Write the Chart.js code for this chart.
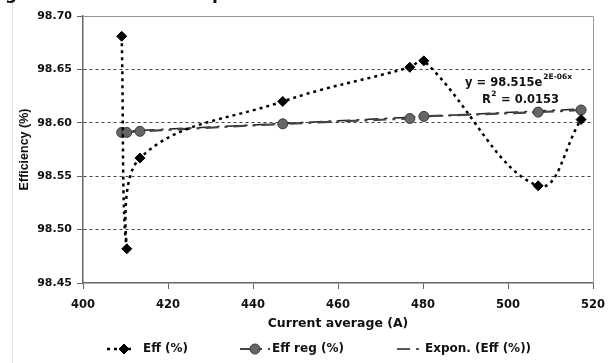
<!DOCTYPE html>
<html>
<head>
<meta charset="utf-8">
<script src="https://cdn.jsdelivr.net/npm/chart.js@4.4.1/dist/chart.umd.min.js"></script>
<style>
  html, body { margin: 0; padding: 0; background: #fff; }
</style>
</head>
<body>
<canvas id="chart" width="616" height="363"></canvas>
<script>
// values
const effX = [409.1, 410.3, 413.4, 447.0, 476.9, 480.2, 507.1, 517.2];
const effY = [98.681, 98.482, 98.567, 98.620, 98.652, 98.658, 98.541, 98.603];
const regX = [409.1, 410.3, 413.4, 447.0, 476.9, 480.2, 507.1, 517.2];
const regY = [98.591, 98.591, 98.592, 98.599, 98.604, 98.606, 98.610, 98.612];
const trendX = [409.1, 517.2];
const trendY = [98.592, 98.613];
const xTicks = [400, 420, 440, 460, 480, 500, 520];
const yTicks = [98.45, 98.50, 98.55, 98.60, 98.65, 98.70];
const seriesNames = ['Eff (%)', 'Eff reg (%)', 'Expon. (Eff (%))'];
const equationText = ['y = 98.515e', '2E-06x'];
const r2Text = ['R', '2', ' = 0.0153'];

const FONT = '"DejaVu Sans", sans-serif';
const INK = '#111';

function points(xs, ys) {
  return xs.map((x, i) => ({ x: x, y: ys[i] }));
}

function marker(ctx, ds, x, y) {
  const r = ds.pointRadius;
  ctx.save();
  ctx.fillStyle = ds.pointBackgroundColor;
  ctx.strokeStyle = ds.pointBorderColor;
  ctx.lineWidth = ds.pointBorderWidth;
  ctx.beginPath();
  if (ds.pointStyle === 'rectRot') {
    ctx.moveTo(x, y - r);
    ctx.lineTo(x + r, y);
    ctx.lineTo(x, y + r);
    ctx.lineTo(x - r, y);
    ctx.closePath();
  } else {
    ctx.arc(x, y, r, 0, Math.PI * 2);
  }
  ctx.fill();
  ctx.stroke();
  ctx.restore();
}

// plot frame, equation text, cropped caption and the legend
const extras = {
  id: 'extras',
  beforeDatasetsDraw(chart) {
    const { ctx, chartArea: a } = chart;
    ctx.save();
    ctx.strokeStyle = '#999';
    ctx.lineWidth = 1;
    ctx.beginPath();
    ctx.moveTo(a.left, a.top + 0.5);
    ctx.lineTo(a.right + 0.5, a.top + 0.5);
    ctx.lineTo(a.right + 0.5, a.bottom);
    ctx.stroke();
    ctx.restore();
  },
  afterDraw(chart) {
    const { ctx } = chart;
    ctx.save();

    // faint outer chart border and clipped caption letters
    ctx.strokeStyle = '#e2e2e2';
    ctx.beginPath();
    ctx.moveTo(12.5, 0);
    ctx.lineTo(12.5, 363);
    ctx.stroke();
    ctx.fillStyle = INK;
    ctx.font = 'bold 17px ' + FONT;
    ctx.textBaseline = 'alphabetic';
    ctx.fillText('g', 5, -1);
    ctx.fillText('p', 212, -1);

    // trendline equation
    ctx.font = 'bold 11.5px ' + FONT;
    ctx.fillText(equationText[0], 465, 86);
    let w = ctx.measureText(equationText[0]).width;
    ctx.font = 'bold 7.5px ' + FONT;
    ctx.fillText(equationText[1], 465 + w + 1, 79);

    ctx.font = 'bold 11.5px ' + FONT;
    ctx.fillText(r2Text[0], 482, 103);
    w = ctx.measureText(r2Text[0]).width;
    ctx.font = 'bold 7.5px ' + FONT;
    ctx.fillText(r2Text[1], 482 + w + 0.5, 96);
    const w2 = ctx.measureText(r2Text[1]).width;
    ctx.font = 'bold 11.5px ' + FONT;
    ctx.fillText(r2Text[2], 482 + w + w2 + 1, 103);

    // legend
    const items = [
      { ds: 0, x0: 107, x1: 134, mx: 124, tx: 143 },
      { ds: 1, x0: 240, x1: 270, mx: 255, tx: 272 },
      { ds: 2, x0: 397, x1: 423, mx: null, tx: 425 }
    ];
    const ly = 349;
    items.forEach(it => {
      const ds = chart.data.datasets[it.ds];
      ctx.save();
      ctx.strokeStyle = ds.borderColor;
      ctx.lineWidth = ds.borderWidth;
      ctx.setLineDash(ds.borderDash || []);
      ctx.beginPath();
      ctx.moveTo(it.x0, ly);
      ctx.lineTo(it.x1, ly);
      ctx.stroke();
      ctx.restore();
      if (it.mx !== null) {
        marker(ctx, ds, it.mx, ly);
      }
      ctx.fillStyle = INK;
      ctx.font = 'bold 12px ' + FONT;
      ctx.textBaseline = 'middle';
      ctx.fillText(seriesNames[it.ds], it.tx, ly);
    });

    ctx.restore();
  }
};

const isEdge = v => Math.abs(v - yTicks[0]) < 1e-6 || Math.abs(v - yTicks[yTicks.length - 1]) < 1e-6;

new Chart(document.getElementById('chart'), {
  type: 'line',
  data: {
    datasets: [
      {
        label: seriesNames[0],
        data: points(effX, effY),
        borderColor: '#000',
        borderWidth: 2.5,
        borderDash: [3, 4],
        tension: 0.4,
        pointStyle: 'rectRot',
        pointRadius: 5,
        pointBackgroundColor: '#000',
        pointBorderColor: '#000',
        pointBorderWidth: 1,
        order: 1
      },
      {
        label: seriesNames[1],
        data: points(regX, regY),
        borderColor: '#444',
        borderWidth: 2.2,
        borderDash: [13, 6, 3, 6],
        tension: 0,
        pointStyle: 'circle',
        pointRadius: 5,
        pointBackgroundColor: '#666',
        pointBorderColor: '#3a3a3a',
        pointBorderWidth: 1,
        order: 2
      },
      {
        label: seriesNames[2],
        data: points(trendX, trendY),
        borderColor: '#222',
        borderWidth: 1.5,
        borderDash: [13, 6, 3, 6],
        borderDashOffset: 8,
        tension: 0,
        pointRadius: 0,
        order: 3
      }
    ]
  },
  options: {
    responsive: false,
    animation: false,
    events: [],
    layout: { padding: { top: 16, right: 23, bottom: 27, left: 0 } },
    plugins: {
      legend: { display: false },
      tooltip: { enabled: false }
    },
    scales: {
      x: {
        type: 'linear',
        min: xTicks[0],
        max: xTicks[xTicks.length - 1],
        afterFit(scale) { scale.height = 53; },
        afterBuildTicks(scale) { scale.ticks = xTicks.map(v => ({ value: v })); },
        border: { color: '#666', width: 1.5 },
        grid: { drawOnChartArea: false, drawTicks: true, tickLength: 6, color: '#666' },
        ticks: {
          padding: 9,
          color: INK,
          maxRotation: 0,
          font: { family: FONT, size: 11.5, weight: 'bold' }
        },
        title: {
          display: true,
          text: 'Current average (A)',
          color: INK,
          padding: { top: 0, bottom: 5 },
          font: { family: FONT, size: 12.5, weight: 'bold' }
        }
      },
      y: {
        type: 'linear',
        min: yTicks[0],
        max: yTicks[yTicks.length - 1],
        afterFit(scale) { scale.width = 83; },
        afterBuildTicks(scale) { scale.ticks = yTicks.map(v => ({ value: v })); },
        border: { color: '#666', width: 1.5, dash: [3, 3] },
        grid: {
          color: c => (c.tick && isEdge(c.tick.value)) ? 'rgba(0,0,0,0)' : '#444',
          tickColor: '#666',
          tickBorderDash: [10, 0],
          tickLength: 6,
          lineWidth: 1
        },
        ticks: {
          padding: 5,
          color: INK,
          font: { family: FONT, size: 11, weight: 'bold' },
          callback: v => v.toFixed(2)
        },
        title: {
          display: true,
          text: 'Efficiency (%)',
          color: INK,
          padding: { top: 17.5, bottom: 0 },
          font: { family: '"Liberation Sans", Arial, sans-serif', size: 12.5, weight: 'bold' }
        }
      }
    }
  },
  plugins: [extras]
});
</script>
</body>
</html>
